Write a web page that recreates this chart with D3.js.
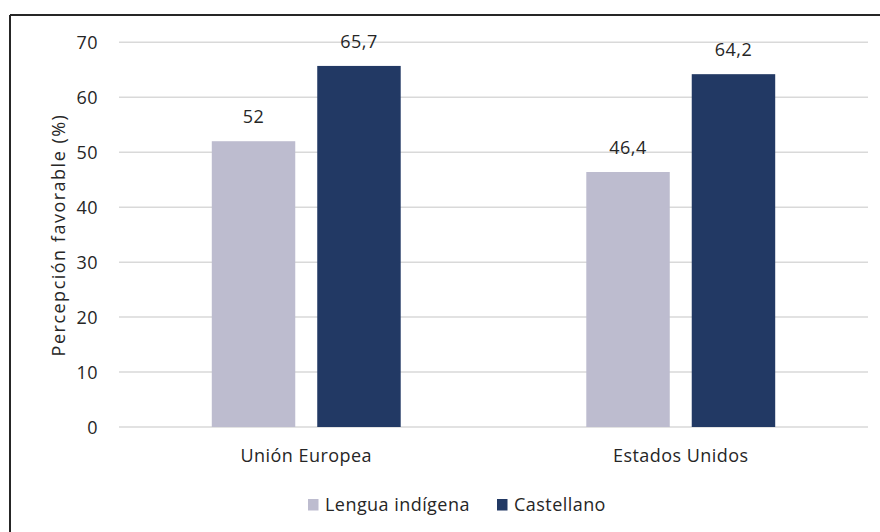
<!DOCTYPE html>
<html><head><meta charset="utf-8">
<script src="https://cdn.jsdelivr.net/npm/d3@7"></script>
<style>
html,body{margin:0;padding:0;background:#fff;}
svg{display:block;font-family:"Open Sans",Lato,sans-serif;}
</style></head>
<body>
<svg id="chart" width="880" height="532"></svg>
<script>
const categories = ["Unión Europea", "Estados Unidos"];
const seriesNames = ["Lengua indígena", "Castellano"];
const lenguaIndigena = [52, 46.4];
const castellano = [65.7, 64.2];
const yTicks = [0, 10, 20, 30, 40, 50, 60, 70];
const colors = ["#BDBCCF", "#223964"];

const FONT = "'Open Sans',Lato,sans-serif";
const FS = 18;
const LS = 0.45;
const TXT = "#262626";
const svg = d3.select("#chart");
const plotL = 119, plotR = 868, plotT = 42.3, plotB = 427;

// outer border (top & left visible)
svg.append("line").attr("x1", 10).attr("x2", 880).attr("y1", 15).attr("y2", 15)
  .attr("stroke", "#262626").attr("stroke-width", 2);
svg.append("line").attr("x1", 10).attr("x2", 10).attr("y1", 15).attr("y2", 532)
  .attr("stroke", "#262626").attr("stroke-width", 2);

const y = d3.scaleLinear().domain([0, 70]).range([plotB, plotT]);
const x0 = d3.scaleBand().domain(categories).range([plotL, plotR]).paddingInner(0).paddingOuter(0);
const x1 = d3.scaleBand().domain(seriesNames).range([0, x0.bandwidth()]).paddingInner(0.2085).paddingOuter(0.88);

// grid
svg.append("g").selectAll("line").data(yTicks).join("line")
  .attr("x1", plotL).attr("x2", plotR)
  .attr("y1", d => y(d)).attr("y2", d => y(d))
  .attr("stroke", "#D9D9D9").attr("stroke-width", 1.5);

// y axis labels
const yAxis = d3.axisLeft(y).tickValues(yTicks).tickSize(0).tickPadding(0);
const gy = svg.append("g").attr("transform", `translate(98,0)`).call(yAxis);
gy.select(".domain").remove();
gy.selectAll("text").attr("font-size", FS).attr("fill", TXT).attr("font-family", FONT)
  .attr("letter-spacing", LS).attr("dy", null).attr("y", 6.3);

// y title
svg.append("text").attr("transform", "translate(64.5,235) rotate(-90)")
  .attr("text-anchor", "middle").attr("font-size", FS).attr("fill", TXT)
  .attr("letter-spacing", 1.5)
  .text("Percepción favorable (%)");

// bars
const data = categories.map((c, i) => ({cat: c, vals: [lenguaIndigena[i], castellano[i]]}));
const fmt = v => String(v).replace(".", ",");
const groups = svg.append("g").selectAll("g").data(data).join("g")
  .attr("transform", d => `translate(${x0(d.cat)},0)`);
groups.selectAll("rect").data(d => d.vals.map((v, j) => ({s: seriesNames[j], v, j}))).join("rect")
  .attr("x", d => x1(d.s)).attr("width", x1.bandwidth())
  .attr("y", d => y(d.v)).attr("height", d => y(0) - y(d.v))
  .attr("fill", d => colors[d.j]);
groups.selectAll("text").data(d => d.vals.map((v, j) => ({s: seriesNames[j], v, j}))).join("text")
  .attr("x", d => x1(d.s) + x1.bandwidth() / 2)
  .attr("y", d => y(d.v) - 18)
  .attr("text-anchor", "middle").attr("font-size", FS).attr("fill", TXT)
  .attr("letter-spacing", LS)
  .text(d => fmt(d.v));

// x axis labels
const xAxis = d3.axisBottom(x0).tickSize(0).tickPadding(0);
const gx = svg.append("g").attr("transform", `translate(0,${plotB})`).call(xAxis);
gx.select(".domain").remove();
gx.selectAll("text").attr("font-size", FS).attr("fill", TXT).attr("font-family", FONT)
  .attr("letter-spacing", LS).attr("dy", null).attr("y", 35);

// legend
const legendX = [308, 497];
const lg = svg.append("g").selectAll("g").data(seriesNames).join("g")
  .attr("transform", (d, i) => `translate(${legendX[i]},499)`);
lg.append("rect").attr("width", 10.5).attr("height", 11.5).attr("fill", (d, i) => colors[i]);
lg.append("text").attr("x", 17).attr("y", 12)
  .attr("font-size", FS).attr("fill", TXT).attr("letter-spacing", LS).text(d => d);
</script>
</body></html>
